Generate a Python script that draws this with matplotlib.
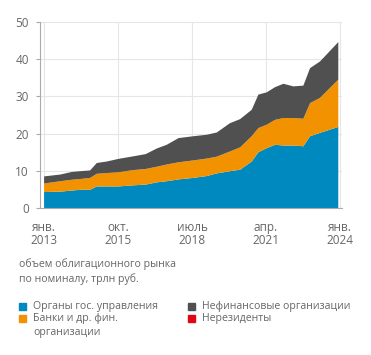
import matplotlib
matplotlib.use("Agg")
import matplotlib.pyplot as plt
from matplotlib.patches import Rectangle

plt.rcParams['font.family'] = ['Open Sans', 'DejaVu Sans']

# decimal years
dates = [2013.0, 2013.6, 2014.03, 2014.34, 2014.71, 2014.96, 2015.33, 2015.76,
         2016.32, 2016.78, 2017.19, 2017.56, 2018.0, 2018.55, 2019.05, 2019.42,
         2019.91, 2020.29, 2020.72, 2020.97, 2021.28, 2021.59, 2021.90, 2022.27,
         2022.64, 2022.89, 2023.26, 2023.94]
# stacked tops
total_top = [8.5, 9.0, 9.7, 9.9, 10.1, 12.1, 12.5, 13.2, 13.9, 14.5, 16.0, 17.0,
             18.8, 19.3, 19.7, 20.3, 22.8, 23.9, 26.4, 30.5, 31.1, 32.5, 33.4,
             32.7, 32.9, 37.6, 39.4, 44.6]
banks_top = [6.6, 7.2, 7.6, 7.8, 8.1, 9.2, 9.4, 9.6, 10.2, 10.5, 11.1, 11.7,
             12.3, 12.8, 13.3, 13.8, 15.2, 16.3, 19.3, 21.5, 22.4, 23.7, 24.2,
             24.2, 24.0, 28.2, 29.6, 34.5]
gov = [4.3, 4.4, 4.7, 4.9, 4.9, 5.8, 5.8, 5.8, 6.1, 6.3, 6.9, 7.2, 7.7, 8.1,
       8.6, 9.3, 9.9, 10.3, 12.5, 15.0, 16.1, 17.0, 16.8, 16.8, 16.6, 19.3,
       20.2, 21.8]
nonres = [0.0] * len(dates)

banks = [b - g for b, g in zip(banks_top, gov)]
nonfin = [t - b for t, b in zip(total_top, banks_top)]

tick_pos = [2013.0, 2015.75, 2018.5, 2021.25, 2024.0]
tick_labels = ["янв.\n2013", "окт.\n2015", "июль\n2018", "апр.\n2021", "янв.\n2024"]
y_ticks = [0, 10, 20, 30, 40, 50]

series_names = ["Органы гос. управления", "Банки и др. фин.\nорганизации",
                "Нефинансовые организации", "Нерезиденты"]
colors = ["#0089BF", "#F39200", "#505050", "#E30613"]

fig = plt.figure(figsize=(3.71, 3.55), dpi=100)
ax = fig.add_axes([0.108, 0.414, 0.814, 0.524])

ax.stackplot(dates, gov, banks, nonfin, nonres, colors=colors, linewidth=0, zorder=2)

ax.set_xlim(2012.85, 2024.08)
ax.set_ylim(0, 50)
ax.set_xticks(tick_pos)
ax.set_xticklabels(tick_labels, linespacing=1.05)
ax.set_yticks(y_ticks)
ax.grid(True, color="#e6e6e6", linewidth=0.8, zorder=0)
ax.set_axisbelow(True)
for s in ["top", "right"]:
    ax.spines[s].set_visible(False)
for s in ["left", "bottom"]:
    ax.spines[s].set_color("#aaaaaa")
    ax.spines[s].set_linewidth(0.8)
ax.tick_params(axis='both', colors="#aaaaaa", labelcolor="#666666", labelsize=8.5,
               length=0, pad=5)
ax.tick_params(axis='y', length=3, width=0.8)
ax.tick_params(axis='x', pad=9)

fig.text(0.051, 0.197, "объем облигационного рынка\nпо номиналу, трлн руб.",
         fontsize=7.6, color="#666666", va="bottom", ha="left", linespacing=1.4)

# legend
leg_x = [0.051, 0.507]
leg_y = [0.138, 0.104, 0.138, 0.104]
for i, (name, c) in enumerate(zip(series_names, colors)):
    col = 0 if i < 2 else 1
    x0 = leg_x[col]
    y0 = leg_y[i]
    fig.patches.append(Rectangle((x0, y0 - 0.011), 0.019, 0.02, transform=fig.transFigure,
                                 color=c, figure=fig))
    fig.text(x0 + 0.038, y0 + 0.014, name, fontsize=7.6, color="#666666",
             va="top", ha="left", linespacing=1.3)

fig.savefig("out.png", dpi=100)
